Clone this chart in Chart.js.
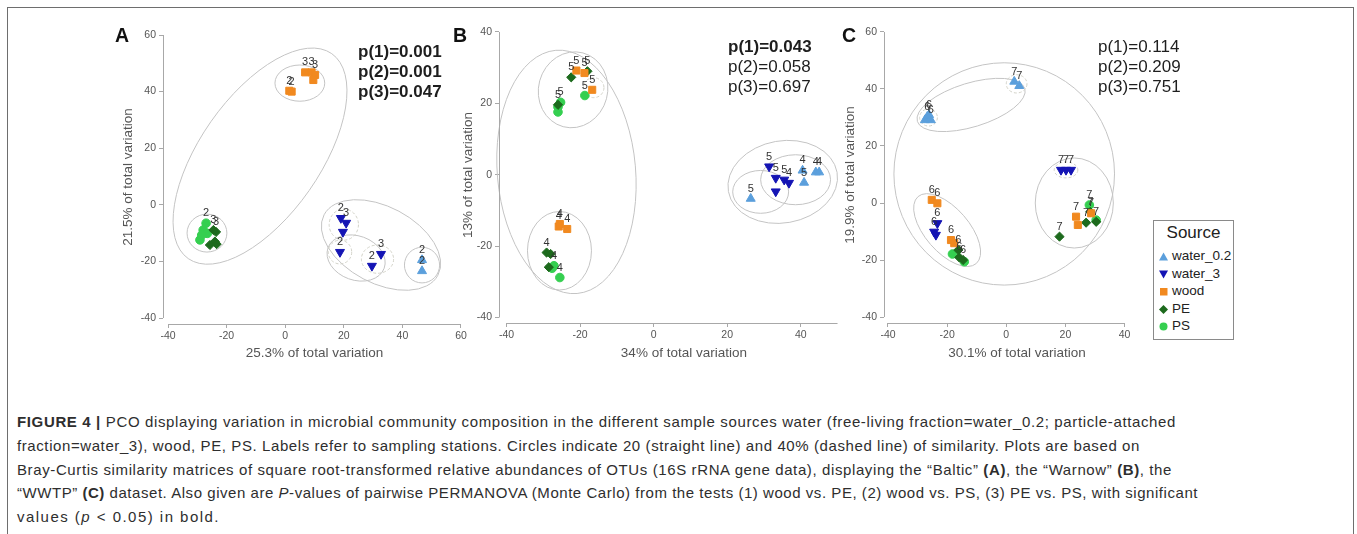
<!DOCTYPE html>
<html>
<head>
<meta charset="utf-8">
<title>Figure 4 - PCO</title>
<script src="https://cdn.jsdelivr.net/npm/chart.js@4.4.1/dist/chart.umd.min.js"></script>
<style>
  body { margin:0; width:1357px; height:534px; overflow:hidden; background:#fff; position:relative;
         font-family: Arial, "Liberation Sans", Helvetica, sans-serif; color:#222; }
  #frame { position:absolute; left:7px; top:7px; width:1345px; height:600px; border:1px solid #6e6e6e; }
  canvas { position:absolute; }
  .letter { position:absolute; font-size:19.5px; line-height:20px; font-weight:bold; color:#111; }
  .pv { position:absolute; font-size:17px; line-height:20px; color:#1e1e1e; white-space:nowrap; }
  #legend { position:absolute; left:1153px; top:220px; width:79px; height:118px; border:1px solid #8a8a8a; background:#fff; }
  #legend .ttl { position:absolute; left:0; width:79px; top:2px; text-align:center; font-size:17px; line-height:20px; color:#222; }
  #legend .row { position:absolute; left:5px; font-size:13.5px; line-height:17px; color:#222; white-space:nowrap; }
  #legend svg { vertical-align:-1px; margin-right:4px; }
  #caption { position:absolute; left:17px; top:410px; font-size:15px; line-height:23.8px; color:#2e2e2e; }
  #caption div { white-space:nowrap; width:max-content; }
</style>
</head>
<body>
<div id="frame"></div>

<canvas id="chartA" width="380" height="350" style="left:100px;top:20px"></canvas>
<canvas id="chartB" width="435" height="353" style="left:440px;top:17px"></canvas>
<canvas id="chartC" width="340" height="353" style="left:820px;top:17px"></canvas>

<div class="letter" style="left:115px;top:25px">A</div>
<div class="letter" style="left:453px;top:25px">B</div>
<div class="letter" style="left:842px;top:25px">C</div>

<div class="pv" id="pvA" style="left:358px;top:42px"></div>
<div class="pv" id="pvB" style="left:728px;top:37px"></div>
<div class="pv" id="pvC" style="left:1098px;top:37px"></div>

<div id="legend"><div class="ttl">Source</div></div>

<div id="caption">
  <div><b>FIGURE 4 |</b> PCO displaying variation in microbial community composition in the different sample sources water (free-living fraction=water_0.2; particle-attached</div>
  <div>fraction=water_3), wood, PE, PS. Labels refer to sampling stations. Circles indicate 20 (straight line) and 40% (dashed line) of similarity. Plots are based on</div>
  <div>Bray-Curtis similarity matrices of square root-transformed relative abundances of OTUs (16S rRNA gene data), displaying the “Baltic” <b>(A)</b>, the “Warnow” <b>(B)</b>, the</div>
  <div>“WWTP” <b>(C)</b> dataset. Also given are <i>P</i>-values of pairwise PERMANOVA (Monte Carlo) from the tests (1) wood vs. PE, (2) wood vs. PS, (3) PE vs. PS, with significant</div>
  <div>values (<i>p</i> &lt; 0.05) in bold.</div>
</div>

<script>
// sample sources (legend order)
const sources = ['water_0.2', 'water_3', 'wood', 'PE', 'PS'];
const srcColors = ['#5b9fdc', '#1414b4', '#f1891f', '#1d6a1d', '#35cf50'];
const srcShapes = ['triangle', 'triangle', 'rect', 'rectRot', 'circle'];
const srcRotation = [0, 180, 0, 0, 0];
const srcRadius = [5.2, 5.2, 5, 4.6, 4.3];

// A - "Baltic": [PCO1, PCO2, station]
const balticWater02 = [[46.7,-19.5,'2'],[46.7,-23.4,'2']];
const balticWater3 = [[19.0,-4.7,'2'],[20.8,-6.4,'3'],[19.7,-9.6,''],[18.7,-16.7,'2'],[29.6,-21.6,'2'],[32.7,-17.4,'3']];
const balticWood = [[1.4,40.3,'2'],[2.2,40.0,'2'],[6.8,46.8,'3'],[9.0,46.8,'3'],[10.2,45.9,'3'],[9.6,44.1,'']];
const balticPE = [[-24.5,-8.9,'3'],[-23.6,-9.6,'3'],[-24.0,-13.0,''],[-23.4,-13.9,''],[-25.7,-14.2,'']];
const balticPS = [[-29.1,-12.4,''],[-28.0,-8.9,''],[-27.0,-6.5,'2'],[-26.6,-10.1,''],[-28.5,-10.7,'']];
const balticP = [0.001, 0.001, 0.047];
// similarity circles: [cx, cy, rx, ry, tilt deg]
const balticRings20 = [[-8.6,17.2,42.7,21.2,-55],[32.7,-14.2,22,13.5,28],[5,43,8.5,6.4,0],[-26.7,-10,6.8,6.7,0],[24.2,-18.8,10.2,7.8,20],[46.7,-21.3,6,6.3,0]];
const balticRings40 = [[20,-7,5,5.5,0],[18.7,-16.7,4,4.2,0],[31.5,-19.2,5.5,5,0]];

// B - "Warnow"
const warnowWater02 = [[40.5,1.2,'4'],[40.9,-2.2,'5'],[44.1,0.7,'4'],[45.0,0.7,'4'],[26.4,-6.7,'5']];
const warnowWater3 = [[31.4,2.3,'5'],[33.2,-0.9,'5'],[35.5,-1.4,'5'],[36.8,-2.3,'4'],[33.2,-4.7,'']];
const warnowWood = [[-21.0,29.2,'5'],[-18.8,28.5,'5'],[-16.7,23.8,'5'],[-25.8,-14.5,'4'],[-23.5,-15.2,'4'],[-25.5,-13.8,'4']];
const warnowPE = [[-22.4,27.3,'5'],[-18.0,29.0,'5'],[-26.0,19.6,'5'],[-29.1,-21.8,'4'],[-28.0,-22.2,''],[-28.5,-25.9,'']];
const warnowPS = [[-18.7,22.2,'5'],[-25.3,20.3,'5'],[-26.0,19.0,''],[-26.0,17.6,''],[-27.1,-25.5,'4'],[-25.5,-28.8,'4'],[-27.6,-26.2,'']];
const warnowP = [0.043, 0.058, 0.697];
const warnowRings20 = [[-23.7,0.8,18.8,34.2,-5],[-21.9,23.8,9.4,10.7,15],[-25.6,-21.3,8.7,11,0],[35.1,-2,15,11.5,-10],[29.1,-4.8,7.6,6,0],[38.6,-1.4,9.5,7,0]];
const warnowRings40 = [[-16.3,24.4,2.8,2.8,0]];

// C - "WWTP"
const wwtpWater02 = [[2.7,42.6,'7'],[4.4,41.1,'7'],[-26.7,30.3,'6'],[-25.5,29.1,'6'],[-27.5,29.1,''],[-26.1,30.9,'6']];
const wwtpWater3 = [[18.5,11.6,'7'],[20.2,11.6,'7'],[21.9,11.6,'7'],[-23.3,-7.1,'6'],[-24.4,-10.1,'6'],[-23.8,-11.2,'']];
const wwtpWood = [[-25.2,1.1,'6'],[-23.3,-0.1,'6'],[-18.7,-13.0,'6'],[-17.6,-14.1,''],[23.6,-4.8,'7'],[24.2,-7.7,''],[28.7,-3.6,'7']];
const wwtpPE = [[18.0,-11.8,'7'],[27.0,-6.9,'7'],[30.4,-6.6,'7'],[28.4,-3.1,'7'],[-15.9,-19.1,'6'],[-14.6,-20.0,'6'],[-16.2,-16.5,'6']];
const wwtpPS = [[-18.2,-17.9,''],[-14.2,-20.6,''],[30.4,-6.0,''],[28.1,-0.7,'7']];
const wwtpP = [0.114, 0.209, 0.751];
const wwtpRings20 = [[-0.7,10.2,37.3,39,0],[-11.9,34.4,19,7.7,-17],[-20,-9.5,15,7.7,49],[23,0,13.2,15.8,0]];
const wwtpRings40 = [[3.5,41.8,3.5,3.2,0],[-26.3,30,3,3,0],[20.2,11.6,4,2.8,0]];

// tick labels
const ticksA = { x: [-40,-20,0,20,40,60], y: [-40,-20,0,20,40,60] };
const ticksB = { x: [-40,-20,0,20,40], y: [-40,-20,0,20,40] };
const ticksC = { x: [-40,-20,0,20,40], y: [-40,-20,0,20,40,60] };

Chart.defaults.font.family = 'Arial, "Liberation Sans", Helvetica, sans-serif';
Chart.defaults.color = '#555';

function makePanel(id, series, rings20, rings40, ticks, axisEnd, range, title, box) {
  const datasets = series.map((pts, i) => ({
    label: sources[i],
    data: pts.map(p => ({ x: p[0], y: p[1], lab: p[2] })),
    backgroundColor: srcColors[i],
    borderColor: srcColors[i],
    pointStyle: srcShapes[i],
    pointRotation: srcRotation[i],
    pointRadius: srcRadius[i],
    pointBorderWidth: 1
  }));

  // similarity circles under the points
  const rings = {
    id: 'rings',
    beforeDatasetsDraw(chart) {
      const { ctx, scales: { x, y } } = chart;
      const sx = Math.abs(x.getPixelForValue(1) - x.getPixelForValue(0));
      const sy = Math.abs(y.getPixelForValue(1) - y.getPixelForValue(0));
      ctx.save();
      ctx.lineWidth = 1;
      [[rings20, [], '#c4c4c4'], [rings40, [3, 2], '#d2d2c8']].forEach(([list, dash, col]) => {
        ctx.setLineDash(dash);
        ctx.strokeStyle = col;
        list.forEach(r => {
          ctx.beginPath();
          ctx.ellipse(x.getPixelForValue(r[0]), y.getPixelForValue(r[1]), r[2] * sx, r[3] * sy, r[4] * Math.PI / 180, 0, Math.PI * 2);
          ctx.stroke();
        });
      });
      ctx.restore();
    }
  };

  // station numbers + PRIMER style axis lines
  const extras = {
    id: 'extras',
    afterDatasetsDraw(chart) {
      const { ctx } = chart;
      ctx.save();
      ctx.font = '11px Arial, "Liberation Sans", sans-serif';
      ctx.fillStyle = '#333';
      ctx.textAlign = 'center';
      ctx.textBaseline = 'alphabetic';
      chart.data.datasets.forEach((ds, i) => {
        chart.getDatasetMeta(i).data.forEach((el, j) => {
          if (ds.data[j].lab) ctx.fillText(ds.data[j].lab, el.x, el.y - 7);
        });
      });
      ctx.restore();
    },
    afterDraw(chart) {
      const { ctx, chartArea, scales: { x, y } } = chart;
      ctx.save();
      ctx.strokeStyle = '#a8a8a8';
      ctx.lineWidth = 1;
      ctx.beginPath();
      const yl = Math.round(chartArea.left) + 0.5;
      ctx.moveTo(yl, y.getPixelForValue(ticks.y[ticks.y.length - 1]));
      ctx.lineTo(yl, y.getPixelForValue(ticks.y[0]));
      const xb = Math.round(chartArea.bottom) + 0.5;
      ctx.moveTo(x.getPixelForValue(ticks.x[0]), xb);
      ctx.lineTo(x.getPixelForValue(axisEnd), xb);
      ctx.stroke();
      ctx.restore();
    }
  };

  const tickFont = { size: 10.5 };
  new Chart(document.getElementById(id), {
    type: 'scatter',
    data: { datasets },
    options: {
      responsive: false,
      animation: false,
      layout: { padding: { top: box.top, right: box.right, left: 0, bottom: 0 } },
      plugins: { legend: { display: false }, tooltip: { enabled: false } },
      scales: {
        x: {
          min: range.x[0], max: range.x[1],
          afterBuildTicks: s => { s.ticks = ticks.x.map(v => ({ value: v })); },
          afterFit: s => { s.height = box.xh; },
          grid: { drawOnChartArea: false, drawTicks: true, tickLength: 4, color: '#a8a8a8' },
          border: { display: false },
          ticks: { font: tickFont, color: '#555', padding: 2, maxRotation: 0 },
          title: { display: true, text: title.x, color: '#555', font: { size: 13.5 }, padding: { top: 0, bottom: 9 } }
        },
        y: {
          min: range.y[0], max: range.y[1],
          afterBuildTicks: s => { s.ticks = ticks.y.map(v => ({ value: v })); },
          afterFit: s => { s.width = box.yw; },
          grid: { drawOnChartArea: false, drawTicks: true, tickLength: 4, color: '#a8a8a8' },
          border: { display: false },
          ticks: { font: tickFont, color: '#555', padding: 3 },
          title: { display: true, text: title.y, color: '#555', font: { size: 13.5 }, padding: { top: title.pad, bottom: 0 } }
        }
      }
    },
    plugins: [rings, extras]
  });
}

makePanel('chartA', [balticWater02, balticWater3, balticWood, balticPE, balticPS], balticRings20, balticRings40,
  ticksA, 60, { x: [-41.71, 61.71], y: [-42.12, 61.77] },
  { x: '25.3% of total variation', y: '21.5% of total variation', pad: 20 },
  { top: 10, right: 14, yw: 63, xh: 46 });

makePanel('chartB', [warnowWater02, warnowWater3, warnowWood, warnowPE, warnowPS], warnowRings20, warnowRings40,
  ticksB, 50, { x: [-42.04, 58.5], y: [-41.54, 41.4] },
  { x: '34% of total variation', y: '13% of total variation', pad: 20 },
  { top: 10, right: 6, yw: 59, xh: 47 });

makePanel('chartC', [wwtpWater02, wwtpWater3, wwtpWood, wwtpPE, wwtpPS], wwtpRings20, wwtpRings40,
  ticksC, 40, { x: [-41.35, 48.6], y: [-42.1, 61.75] },
  { x: '30.1% of total variation', y: '19.9% of total variation', pad: 22 },
  { top: 10, right: 10, yw: 64, xh: 47 });

// PERMANOVA p-values, significant ones in bold
function pvText(el, vals) {
  document.getElementById(el).innerHTML = vals.map((v, i) => {
    const t = 'p(' + (i + 1) + ')=' + v.toFixed(3);
    return v < 0.05 ? '<b>' + t + '</b>' : t;
  }).join('<br>');
}
pvText('pvA', balticP);
pvText('pvB', warnowP);
pvText('pvC', wwtpP);

// legend
const shapeSvg = {
  triangle: r => r ? '<polygon points="0,0.5 9,0.5 4.5,8.5"/>' : '<polygon points="0,8.5 4.5,0.5 9,8.5"/>',
  rect: () => '<rect x="1" y="1" width="7.5" height="7.5"/>',
  rectRot: () => '<polygon points="4.5,0 9,4.5 4.5,9 0,4.5"/>',
  circle: () => '<circle cx="4.5" cy="4.5" r="4"/>'
};
const legend = document.getElementById('legend');
sources.forEach((s, i) => {
  const row = document.createElement('div');
  row.className = 'row';
  row.style.top = (26 + i * 17.5) + 'px';
  row.innerHTML = '<svg width="9" height="9" fill="' + srcColors[i] + '">' + shapeSvg[srcShapes[i]](srcRotation[i]) + '</svg>' + s;
  legend.appendChild(row);
});

// caption lines spaced out to the original line ends
const captionEnds = [1176, 1140, 1172, 1198, 220];
document.querySelectorAll('#caption div').forEach((d, i) => {
  const w = d.getBoundingClientRect().width;
  const n = d.textContent.length;
  d.style.letterSpacing = ((captionEnds[i] - 17 - w) / n).toFixed(3) + 'px';
});
</script>
</body>
</html>
